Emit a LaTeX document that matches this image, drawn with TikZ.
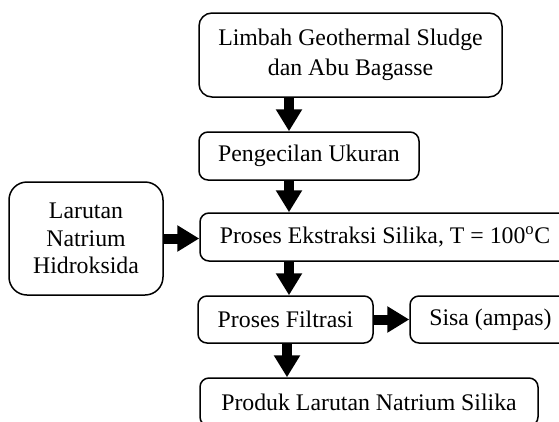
\documentclass[tikz,border=0pt]{standalone}
\usepackage{fontspec}
\setmainfont{Liberation Serif}
\usetikzlibrary{arrows.meta}
\begin{document}
\begin{tikzpicture}[x=1pt,y=-1pt,
  box/.style={draw=black,line width=1.5pt,rounded corners=9pt,inner sep=0pt,align=center,
    font=\fontsize{23.8}{30}\selectfont},
  flow/.style={line width=10pt,-{Triangle[width=25pt,length=22pt]}}]
\useasboundingbox (0,0) rectangle (559,421);
\clip (0,0) rectangle (559,421);
\node[box,rounded corners=13pt,minimum width=303pt,minimum height=84pt] (b1) at (350.5,55) {Limbah Geothermal Sludge\\dan Abu Bagasse};
\node[box,minimum width=220pt,minimum height=48pt] (b2) at (309,156) {Pengecilan Ukuran};
\node[box,rounded corners=18pt,minimum width=154pt,minimum height=113pt,font=\fontsize{23.8}{27.5}\selectfont] (l) at (86,238.5) {Larutan\\Natrium\\Hidroksida};
\node[box,minimum width=370pt,minimum height=48pt] (b3) at (385,237) {Proses Ekstraksi Silika, T = 100\textsuperscript{o}C};
\node[box,minimum width=175pt,minimum height=47pt] (b4) at (285.5,319.5) {Proses Filtrasi};
\node[box,minimum width=161pt,minimum height=47pt] (s) at (490.5,319.5) {Sisa (ampas)};
\node[box,minimum width=338pt,minimum height=48pt] (b5) at (369,402) {Produk Larutan Natrium Silika};
\coordinate (ax) at (289,0);
\coordinate (bx) at (287,0);
\draw[flow] (b1.south -| ax) -- (b2.north -| ax);
\draw[flow] (b2.south -| ax) -- (b3.north -| ax);
\draw[flow] (b3.south -| ax) -- (b4.north -| ax);
\draw[flow] (b4.south -| bx) -- (b5.north -| bx);
\draw[flow] (l.east) -- (l.east -| b3.west);
\draw[flow] (b4.east) -- (s.west);
\end{tikzpicture}
\end{document}
